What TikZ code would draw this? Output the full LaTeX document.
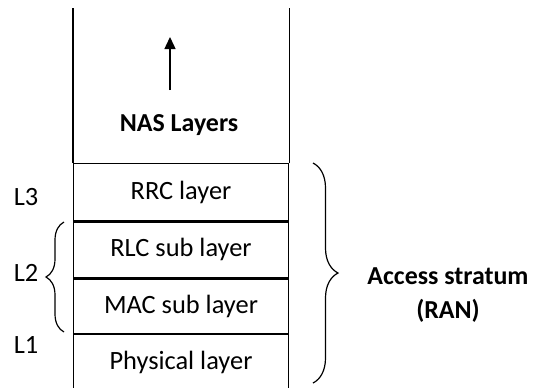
\documentclass[tikz,border=0pt]{standalone}
\usepackage{fontspec}
\setmainfont{Carlito}
\usepackage{tikz}
\usetikzlibrary{arrows.meta}
\usetikzlibrary{positioning}
\usetikzlibrary{decorations.pathreplacing}

\begin{document}
\begin{tikzpicture}[x=1bp, y=-1bp, every node/.style={font=\fontsize{26.5}{35}\selectfont},
    layer/.style={draw, line width=1.3pt, minimum width=215bp, inner sep=0pt},
    sep/.style={line width=2.8pt},
    curly/.style={decorate, decoration={brace, amplitude=#1}, line width=1.2pt}]
            \useasboundingbox (0,0) rectangle (536,387);
            % protocol stack
            \node[layer, minimum height=57bp, anchor=north] (rrc) at (181,163) {RRC layer};
            \node[layer, minimum height=56bp, below=0pt of rrc] (rlc) {RLC sub layer};
            \node[layer, minimum height=54bp, below=0pt of rlc] (mac) {MAC sub layer};
            \node[layer, minimum height=55bp, below=0pt of mac] (phy) {Physical layer};
            % thick borders
            \draw[sep] (rrc.south west) -- (rrc.south east);
            \draw[sep] (mac.south west) -- (mac.south east);

            % NAS
            \draw[line width=1.3pt] (rrc.north west) -- (rrc.north west |- 0,8);
            \draw[line width=1.3pt] (rrc.north east) -- (rrc.north east |- 0,8);
            \node[font=\fontsize{26}{30}\selectfont\bfseries] (nas) at (179,125) {NAS Layers};
            \coordinate (up base) at (170,90);
            \coordinate (up tip) at (170,37);
            \draw[line width=1.4pt, -{Triangle[length=12bp, width=11bp]}] (up base) -- (up tip);

            % layer numbers
            \node (l3) at (26,197) {L3};
            \node (l2) at (26,273) {L2};
            \node (l1) at (26,345) {L1};
            \draw[curly=18bp] (64,332) -- (64,222);

            % access stratum
            \draw[curly=25bp] (313,163) -- (313,383);
            \node[align=center, font=\fontsize{26}{35}\selectfont\bfseries] (as) at (448,295) {Access stratum\\(RAN)};
        \end{tikzpicture}
\end{document}
